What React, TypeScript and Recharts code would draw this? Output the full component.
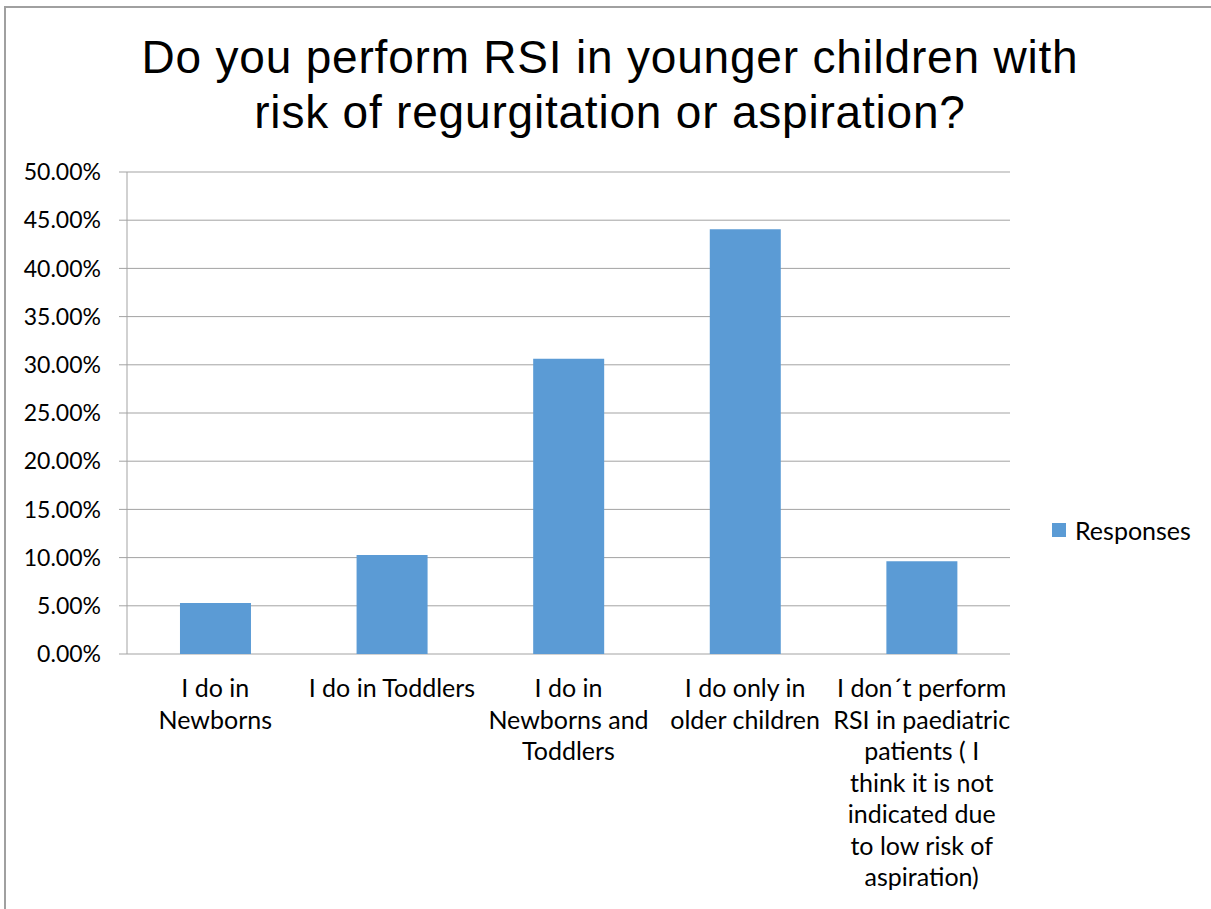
import React from 'react';
import { BarChart, Bar, XAxis, YAxis, CartesianGrid, Legend } from 'recharts';

const categories = [
  'I do in Newborns',
  'I do in Toddlers',
  'I do in Newborns and Toddlers',
  'I do only in older children',
  'I don´t perform RSI in paediatric patients ( I think it is not indicated due to low risk of aspiration)',
];
const responses = [0.053, 0.1028, 0.3064, 0.4407, 0.0962];
const tickLines = [
  ['I do in', 'Newborns'],
  ['I do in Toddlers'],
  ['I do in', 'Newborns and', 'Toddlers'],
  ['I do only in', 'older children'],
  ['I don´t perform', 'RSI in paediatric', 'patients ( I', 'think it is not', 'indicated due', 'to low risk of', 'aspiration)'],
];
const yTicks = [0, 0.05, 0.1, 0.15, 0.2, 0.25, 0.3, 0.35, 0.4, 0.45, 0.5];
const edgeTicks = [0, 1, 2, 3, 4, 5];
const seriesName = 'Responses';
const title = ['Do you perform RSI in younger children with', 'risk of regurgitation or aspiration?'];

const data = categories.map((c, i) => ({ category: c, idx: i, value: responses[i] }));

const BAR_COLOR = '#5B9BD5';
const GRID = '#a3a3a3';
const LABEL_FONT = 'Lato, "Open Sans", sans-serif';

const CategoryTick = (props: any) => {
  const { x, y, index } = props;
  const lines = tickLines[index] || [];
  return (
    <g>
      {lines.map((l, i) => (
        <text
          key={i}
          x={x}
          y={y + 43 + i * 31.5}
          textAnchor="middle"
          fontFamily={LABEL_FONT}
          fontSize={25}
          fill="#000"
        >
          {l}
        </text>
      ))}
    </g>
  );
};

const LegendContent = () => (
  <div style={{ display: 'flex', alignItems: 'center', fontFamily: LABEL_FONT, fontSize: 25, color: '#000', lineHeight: '28px' }}>
    <span style={{ display: 'inline-block', width: 14, height: 14, background: BAR_COLOR, marginRight: 9 }} />
    <span>{seriesName}</span>
  </div>
);

export default function App() {
  return (
    <>
      <style>{`html,body{margin:0;padding:0;overflow:hidden;background:#fff}`}</style>
      <div
        style={{
          position: 'absolute',
          left: 4,
          top: 6,
          width: 1205,
          height: 901,
          borderTop: '2px solid #a0a0a0',
          borderLeft: '2px solid #a0a0a0',
          background: '#fff',
          overflow: 'hidden',
        }}
      >
        <div
          style={{
            position: 'absolute',
            left: 0,
            top: 22,
            width: 1208,
            textAlign: 'center',
            fontFamily: '"Liberation Sans", Arial, sans-serif',
            fontSize: 46,
            letterSpacing: '0.8px',
            lineHeight: '55px',
            color: '#000',
          }}
        >
          <div>{title[0]}</div>
          <div>{title[1]}</div>
        </div>
        <BarChart
          width={1205}
          height={901}
          data={data}
          margin={{ top: 164, right: 201, bottom: 0, left: 0 }}
          barCategoryGap="30%"
        >
          <CartesianGrid vertical={false} stroke={GRID} strokeWidth={1} />
          <XAxis
            xAxisId="edges"
            type="number"
            domain={[0, 5]}
            ticks={edgeTicks}
            allowDataOverflow
            tick={false}
            tickSize={7}
            height={0}
            axisLine={{ stroke: GRID }}
            tickLine={{ stroke: GRID }}
          />
          <XAxis
            xAxisId="cat"
            dataKey="category"
            type="category"
            height={255}
            axisLine={false}
            tickLine={false}
            tickSize={0}
            tickMargin={0}
            interval={0}
            tick={<CategoryTick />}
          />
          <YAxis
            width={121}
            domain={[0, 0.5]}
            ticks={yTicks}
            tickFormatter={(v: number) => (v * 100).toFixed(2) + '%'}
            tickSize={8}
            tickMargin={18}
            axisLine={{ stroke: GRID }}
            tickLine={{ stroke: GRID }}
            tick={{ fontFamily: LABEL_FONT, fontSize: 23, fill: '#000' }}
            interval={0}
          />
          <Legend
            layout="vertical"
            align="center"
            verticalAlign="middle"
            content={<LegendContent />}
            wrapperStyle={{ left: 1046, top: 508, width: 'auto' }}
          />
          <Bar xAxisId="cat" dataKey="value" name={seriesName} fill={BAR_COLOR} isAnimationActive={false} />
        </BarChart>
      </div>
    </>
  );
}
